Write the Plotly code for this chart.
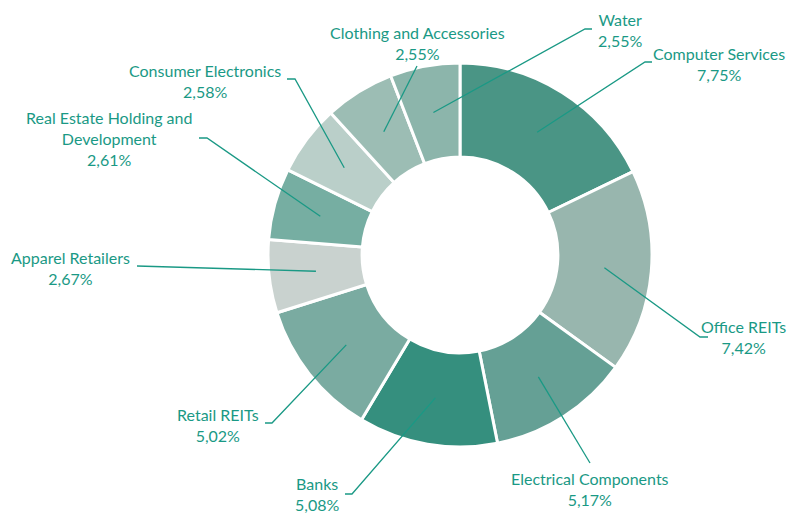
import math
import plotly.graph_objects as go

# ---- data ----
categories = ["Computer Services", "Office REITs", "Electrical Components", "Banks",
              "Retail REITs", "Apparel Retailers", "Real Estate Holding and<br>Development",
              "Consumer Electronics", "Clothing and Accessories", "Water"]
values = [7.75, 7.42, 5.17, 5.08, 5.02, 2.67, 2.61, 2.58, 2.55, 2.55]

# ---- styling / layout ----
slice_colors = ["#4a9585", "#98b6ae", "#65a095", "#358f7e", "#7aaba1",
                "#c9d2cf", "#76aea2", "#bacfc9", "#9cbdb4", "#8cb5ab"]
text_color = "#1a9985"
W, H = 800, 514
cx, cy, R = 460, 255, 192  # pie centre / radius in px
hole = 0.51
inner_frac = 0.755

# label text centres (px) and leader-line start / elbow (px)
label_pos = [(719, 64), (743, 337), (590, 488.5), (317, 494), (218, 424.5),
             (70, 267.5), (109, 139), (205, 80.5), (417, 42.5), (620, 29.5)]
line_start = [(652, 62), (708, 337), (590, 463), (345, 494), (265, 423),
              (137, 266), (199, 138), (287, 79), (417, 66), (592, 29)]
line_elbow = [(645, 62), (700, 337), None, (352, 494), (272, 423),
              None, (207, 138), (295, 79), None, (585, 29)]


def px(x, y):
    return x / W, 1 - y / H


fig = go.Figure(go.Pie(
    labels=[c.replace("<br>", " ") for c in categories],
    values=values,
    hole=hole,
    sort=False,
    direction="clockwise",
    rotation=0,
    marker=dict(colors=slice_colors, line=dict(color="white", width=3)),
    textinfo="none",
    hoverinfo="label+value",
    domain=dict(x=[(cx - R) / W, (cx + R) / W], y=[1 - (cy + R) / H, 1 - (cy - R) / H]),
    showlegend=False,
))

total = sum(values)
cum = 0.0
shapes = []
annotations = []
for i, (cat, v) in enumerate(zip(categories, values)):
    mid = (cum + v / 2) / total * 2 * math.pi
    cum += v
    ix = cx + R * inner_frac * math.sin(mid)
    iy = cy - R * inner_frac * math.cos(mid)
    pts = [line_start[i]]
    if line_elbow[i] is not None:
        pts.append(line_elbow[i])
    pts.append((ix, iy))
    path = ""
    for k, (x, y) in enumerate(pts):
        X, Y = px(x, y)
        path += ("M" if k == 0 else " L") + f" {X:.5f} {Y:.5f}"
    shapes.append(dict(type="path", xref="paper", yref="paper", path=path,
                       line=dict(color=text_color, width=1.3)))
    tx, ty = px(*label_pos[i])
    pct = f"{v:.2f}".replace(".", ",") + "%"
    annotations.append(dict(x=tx, y=ty, xref="paper", yref="paper",
                            text=f"{cat}<br>{pct}", showarrow=False,
                            xanchor="center", yanchor="middle", align="center",
                            font=dict(family="Lato", size=16, color=text_color)))

fig.update_layout(
    width=W, height=H,
    margin=dict(l=0, r=0, t=0, b=0),
    paper_bgcolor="white", plot_bgcolor="white",
    shapes=shapes, annotations=annotations,
)

fig.write_html("out.html", config={"displayModeBar": False},
               post_script="document.body.style.margin='0';document.body.style.padding='0';")
